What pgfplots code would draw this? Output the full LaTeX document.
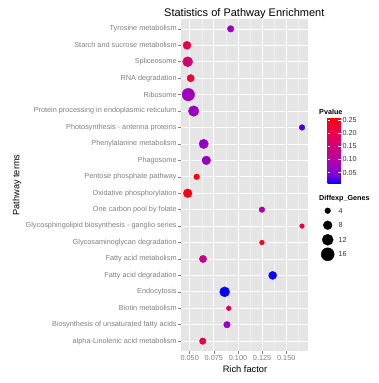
\documentclass[border=0pt]{standalone}
\usepackage{pgfplots}
\pgfplotsset{compat=1.18}
\usepackage{pgfplotstable}
\usepackage{fontspec}
\setmainfont{Liberation Sans}
\usetikzlibrary{calc}
\definecolor{panel}{RGB}{229,229,229}
\definecolor{gminor}{RGB}{242,242,242}
\definecolor{axtext}{RGB}{127,127,127}
\definecolor{legtext}{RGB}{50,50,50}

% row: 0 = bottom (alpha-Linolenic), 19 = top (Tyrosine)
\pgfplotstableread{
row rich genes p
0  0.0635 5  0.199
1  0.0886 5  0.070
2  0.0904 3  0.184
3  0.0862 10 0.008
4  0.1359 7  0.010
5  0.0638 6  0.130
6  0.1248 3  0.235
7  0.1663 3  0.189
8  0.1248 4  0.096
9  0.0479 8  0.245
10 0.0572 4  0.258
11 0.0672 8  0.070
12 0.0645 9  0.065
13 0.1663 4  0.025
14 0.0541 11 0.070
15 0.0486 15 0.078
16 0.0510 6  0.220
17 0.0479 10 0.159
18 0.0472 7  0.197
19 0.0924 5  0.070
}\pathdata

\pgfplotstableread{
x y g
0 -4 4
0 -8 8
0 -12 12
0 -16 16
}\sizelegend

\begin{document}
\begin{tikzpicture}
\path[use as bounding box] (0,0) rectangle (379pt,383pt);
\begin{axis}[
  at={(181.3pt,32pt)}, anchor=south west,
  width=126.7pt, height=332pt, scale only axis,
  xmin=0.0413, xmax=0.1725, ymin=-0.6, ymax=19.6,
  axis background/.style={fill=panel},
  axis line style={draw=none},
  xtick={0.05,0.075,0.1,0.125,0.15},
  xticklabels={0.050,0.075,0.100,0.125,0.150},
  minor xtick={0.0625,0.0875,0.1125,0.1375,0.1625},
  ytick={0,...,19},
  yticklabels={alpha-Linolenic acid metabolism,Biosynthesis of unsaturated fatty acids,Biotin metabolism,Endocytosis,Fatty acid degradation,Fatty acid metabolism,Glycosaminoglycan degradation,Glycosphingolipid biosynthesis - ganglio series,One carbon pool by folate,Oxidative phosphorylation,Pentose phosphate pathway,Phagosome,Phenylalanine metabolism,Photosynthesis - antenna proteins,Protein processing in endoplasmic reticulum,Ribosome,RNA degradation,Spliceosome,Starch and sucrose metabolism,Tyrosine metabolism},
  xmajorgrids, ymajorgrids, xminorgrids,
  major grid style={white, line width=0.7pt},
  minor grid style={gminor, line width=0.35pt},
  tick align=outside, tick pos=left,
  major tick length=3pt, minor tick length=0pt,
  tick style={axtext, line width=0.5pt},
  ticklabel style={font=\fontsize{7.3}{8}\selectfont, text=axtext},
  yticklabel style={inner sep=1.5pt},
  xticklabel style={inner sep=1.5pt},
  colormap={ggbr}{rgb255=(0,0,255) rgb255=(115,0,224) rgb255=(154,0,195) rgb255=(181,0,165) rgb255=(201,0,136) rgb255=(218,0,108) rgb255=(232,0,79) rgb255=(244,0,49) rgb255=(255,0,0)},
  point meta min=0.007, point meta max=0.26,
  colorbar,
  colorbar style={
    at={($(parent axis.south west)+(137.7pt,233.7pt)$)}, anchor=north west,
    width=13.3pt, height=66.7pt, scale only axis,
    axis line style={draw=none},
    ytick={0.05,0.1,0.15,0.2,0.25},
    yticklabels={0.05,0.10,0.15,0.20,0.25},
    yticklabel pos=right, ytick pos=both,
    tick align=inside, major tick length=2.5pt,
    tick style={white, line width=0.5pt},
    yticklabel style={font=\fontsize{7.2}{8}\selectfont, text=legtext, inner sep=1.5pt},
  },
]
\addplot[scatter, only marks, mark=*,
  point meta=explicit,
  scatter/use mapped color={draw=mapped color, fill=mapped color},
  visualization depends on={1.825*sqrt(\thisrow{genes})-0.8 \as \rad},
  scatter/@pre marker code/.append style={/tikz/mark size=\rad pt},
] table[x=rich, y=row, meta=p] {\pathdata};
\end{axis}

\begin{axis}[
  at={(318.6pt,128.7pt)}, anchor=south west,
  width=18.2pt, height=43.6pt, scale only axis,
  xmin=-1, xmax=1, ymin=-16, ymax=-4, clip=false,
  axis line style={draw=none},
  xtick=\empty,
  ytick={-16,-12,-8,-4}, yticklabels={16,12,8,4},
  yticklabel pos=right, major tick length=0pt,
  yticklabel style={font=\fontsize{7.2}{8}\selectfont, text=legtext, inner sep=1.5pt},
]
\addplot[scatter, only marks, mark=*,
  point meta=explicit,
  scatter/use mapped color={draw=black, fill=black},
  visualization depends on={1.825*sqrt(\thisrow{g})-0.8 \as \rad},
  scatter/@pre marker code/.append style={/tikz/mark size=\rad pt},
] table[x=x, y=y, meta=g] {\sizelegend};
\end{axis}

\node[font=\fontsize{11}{13}\selectfont, anchor=base] at (244.3pt,366.3pt) {Statistics of Pathway Enrichment};
\node[font=\fontsize{9.3}{11}\selectfont, anchor=base] at (245pt,10.7pt) {Rich factor};
\node[font=\fontsize{9.2}{11}\selectfont, anchor=base, rotate=90] at (19.5pt,198pt) {Pathway terms};
\node[font=\bfseries\fontsize{7.2}{8}\selectfont, anchor=base west, inner sep=0pt] at (319pt,268pt) {Pvalue};
\node[font=\bfseries\fontsize{7.2}{8}\selectfont, anchor=base west, inner sep=0pt] at (319pt,182.5pt) {Diffexp\_Genes};
\end{tikzpicture}
\end{document}
